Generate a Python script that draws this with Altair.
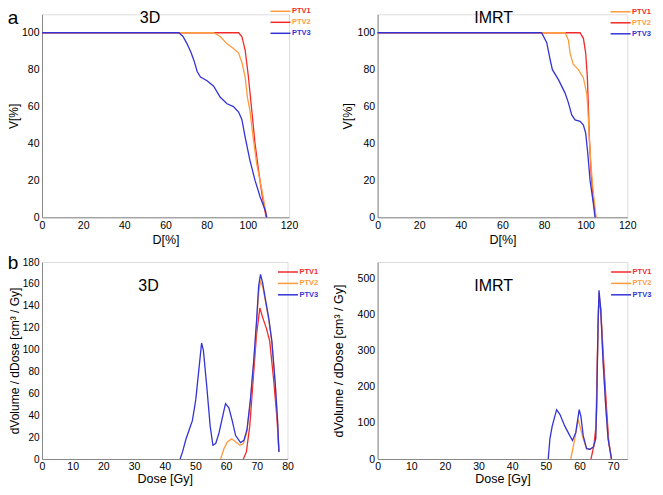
import pandas as pd
import altair as alt

# colours
RED = "#f22a2a"
ORANGE = "#ff9b3d"
BLUE = "#3434d6"

# ---- (a) cumulative DVH, 3D ----
a3d_ptv1_d = [0, 83.4, 86.6, 89.9, 93, 95.5, 97.1, 98.7, 99.8, 101, 102.7, 104.3, 106.8, 109.2]
a3d_ptv1_v = [100, 100, 98, 94, 91.5, 89, 84, 76, 65, 58, 42, 29, 15, 0]
a3d_ptv2_d = [0, 95.5, 97.1, 98.7, 100.3, 101.9, 103.5, 105.2, 106.8, 108.9]
a3d_ptv2_v = [100, 100, 98, 90.6, 76, 58, 40, 25.5, 13, 0]
a3d_ptv3_d = [0, 66.5, 68.5, 70.5, 72.5, 73.8, 75.4, 77, 80.2, 83.4, 86.6, 89.9, 93, 95.5,
              97.1, 98.7, 101, 103.5, 106, 108.4, 109.2]
a3d_ptv3_v = [100, 100, 98, 94, 89, 85, 79, 76, 74, 71, 65, 61.5, 60, 57,
              53, 43.4, 31, 20, 11, 4, 0]

# ---- (a) cumulative DVH, IMRT ----
aim_ptv1_d = [0, 90.1, 91.7, 92.5, 94, 96.5, 98.9, 100.5, 101, 101.6, 102.6, 103.7, 105]
aim_ptv1_v = [100, 100, 96, 89, 83, 80, 75.5, 67, 60, 45.6, 27.4, 13, 0]
aim_ptv2_d = [0, 97.3, 98.9, 100, 100.8, 101.3, 101.8, 102.6, 103.7, 104.8]
aim_ptv2_v = [100, 100, 97, 89, 76, 60, 42, 24, 9, 0]
aim_ptv3_d = [0, 78.8, 81.3, 82.9, 84, 86.9, 90.1, 91.7, 93.3, 94.9, 97.3, 98.9, 100, 101,
              102.1, 103.7, 104.5]
aim_ptv3_v = [100, 100, 94.6, 85.5, 80, 74.6, 67.3, 62, 55.5, 52.8, 52, 50, 45.6, 34.7,
              20, 7.4, 0]

# ---- (b) differential DVH, 3D ----
b3d_ptv1_d = [65.6, 66.6, 67.7, 68.8, 69.9, 71, 72, 73.1, 74.2, 75.5, 76.6, 77.2]
b3d_ptv1_v = [0, 6.5, 30, 72, 113.7, 138, 128.5, 119.6, 107.7, 72, 36, 6.5]
b3d_ptv2_d = [58.2, 59.3, 60.4, 61.8, 63.1, 64.5, 65.6, 66.8, 67.9, 69, 69.9, 70.6, 71.2,
              71.9, 72.8, 73.9, 74.9, 76, 76.8, 77.2]
b3d_ptv2_v = [0, 9.5, 15.5, 18.4, 15.5, 12.5, 14, 25, 52, 88, 122, 152, 162,
              158, 144, 127, 107, 69, 33, 6.5]
b3d_ptv3_d = [45, 45.8, 46.9, 48, 49, 50.1, 51.2, 52, 52.6, 53.7, 54.8, 55.7, 56.6, 57.7,
              59.1, 59.8, 60.9, 62, 63.1, 64.7, 65.8, 66.8, 67.9, 69, 69.9, 70.6, 71.2,
              71.9, 72.8, 73.9, 74.9, 76, 76.8, 77.2]
b3d_ptv3_v = [0, 6.5, 18, 27, 35, 54, 84, 106, 99, 66, 30, 12.5, 14, 24,
              42, 50.6, 46.7, 34.8, 21.4, 15, 17, 27, 54, 90, 125.6, 158, 168.7,
              161, 146, 128.5, 107.7, 69, 33, 6.5]

# ---- (b) differential DVH, IMRT ----
bim_ptv1_d = [63.4, 64.3, 64.9, 65.4, 65.7, 66.3, 67, 68, 68.7, 69.5]
bim_ptv1_v = [0, 37.7, 91.6, 325, 432, 415, 298, 145, 46.7, 0]
bim_ptv2_d = [57.4, 58.6, 59.6, 60.1, 61.1, 62.1, 63.1, 64.1, 64.8, 65.1, 65.5, 65.8,
              66.3, 67, 67.8, 68.5, 69.5]
bim_ptv2_v = [0, 55.6, 109.5, 91.6, 55.6, 28.7, 27, 33, 55.6, 145, 370, 460,
              415, 271, 145, 55.6, 0]
bim_ptv3_d = [50.7, 51.2, 51.9, 53.2, 54.2, 55.6, 56.6, 57.9, 58.9, 59.9, 60.4, 61.1,
              62.1, 63.1, 64.1, 64.8, 65.1, 65.5, 65.8, 66.3, 67, 67.8, 68.5, 69.5]
bim_ptv3_v = [0, 55.6, 91.6, 136.4, 123, 91.6, 73.6, 51, 73.6, 136.4, 118.5, 64.6,
              28.7, 27, 33, 55.6, 145.4, 370, 467, 415, 271, 145, 55.6, 0]

legend_names = ["PTV1", "PTV2", "PTV3"]
# in (a) the legend swaps the line colours of PTV1/PTV2 against their label colours
top_line_colors = [ORANGE, RED, BLUE]
bottom_line_colors = [RED, ORANGE, BLUE]
legend_text_colors = [RED, ORANGE, BLUE]

FONT = "Liberation Sans"


def panel(series, x_dom, x_ticks, y_dom, y_ticks, x_title, y_title, width, height,
          x_pads, y_label_size, y_title_size, y_title_pad, title, title_xy,
          line_colors, leg_x, leg_y0, leg_step, letter=None):
    x_axis = alt.Axis(values=x_ticks, title=x_title, grid=False, ticks=False,
                      labelFlush=False, labelOverlap=False, labelPadding=x_pads[0],
                      titlePadding=x_pads[1],
                      titleFontWeight="normal", titleFontSize=12.5, labelFontSize=10.5)
    y_axis = alt.Axis(values=y_ticks, title=y_title, grid=False, ticks=False,
                      labelOverlap=False, labelPadding=3, titlePadding=y_title_pad,
                      titleFontWeight="normal", titleFontSize=y_title_size,
                      labelFontSize=y_label_size)
    x_enc = alt.X("dose:Q", scale=alt.Scale(domain=x_dom, nice=False), axis=x_axis)
    y_enc = alt.Y("vol:Q", scale=alt.Scale(domain=y_dom, nice=False), axis=y_axis)

    # every curve carries the same x/y definition so the axis settings survive the layer merge
    layers = []
    for d, v, color in series:
        df = pd.DataFrame({"dose": d, "vol": v})
        layers.append(alt.Chart(df).mark_line(color=color, strokeWidth=1.3).encode(
            x=x_enc, y=y_enc))

    one = pd.DataFrame({"k": [0]})
    layers.append(alt.Chart(one).mark_text(fontSize=16, font=FONT, color="black").encode(
        x=alt.value(title_xy[0]), y=alt.value(title_xy[1]), text=alt.value(title)))
    if letter is not None:
        layers.append(alt.Chart(one).mark_text(fontSize=19, font=FONT, color="black").encode(
            x=alt.value(letter[1]), y=alt.value(letter[2]), text=alt.value(letter[0])))

    for i, name in enumerate(legend_names):
        ly = leg_y0 + i * leg_step
        layers.append(alt.Chart(one).mark_rule(strokeWidth=1.5).encode(
            x=alt.value(leg_x), x2=alt.value(leg_x + 20), y=alt.value(ly),
            color=alt.value(line_colors[i])))
        layers.append(alt.Chart(one).mark_text(fontSize=7.5, fontWeight="bold", font=FONT,
                                               align="left", baseline="middle").encode(
            x=alt.value(leg_x + 21.5), y=alt.value(ly), text=alt.value(name),
            color=alt.value(legend_text_colors[i])))

    return alt.layer(*layers).properties(width=width, height=height)


tl = panel([(a3d_ptv2_d, a3d_ptv2_v, RED), (a3d_ptv1_d, a3d_ptv1_v, ORANGE),
            (a3d_ptv3_d, a3d_ptv3_v, BLUE)],
           [0, 120], list(range(0, 121, 20)), [0, 110], list(range(0, 101, 20)),
           "D[%]", "V[%]", 247, 203, (3, 3), 10.5, 12, 1, "3D", (108, 4),
           top_line_colors, 228.5, -3, 11, letter=("a", -29, 4))

tr = panel([(aim_ptv2_d, aim_ptv2_v, RED), (aim_ptv1_d, aim_ptv1_v, ORANGE),
            (aim_ptv3_d, aim_ptv3_v, BLUE)],
           [0, 120], list(range(0, 121, 20)), [0, 110], list(range(0, 101, 20)),
           "D[%]", "V[%]", 249.7, 203, (3, 3), 10.5, 12.5, 3, "IMRT", (116, 4),
           top_line_colors, 233, -2.5, 11)

bl = panel([(b3d_ptv1_d, b3d_ptv1_v, RED), (b3d_ptv2_d, b3d_ptv2_v, ORANGE),
            (b3d_ptv3_d, b3d_ptv3_v, BLUE)],
           [0, 80], list(range(0, 81, 10)), [0, 180], list(range(0, 181, 20)),
           "Dose [Gy]", "dVolume / dDose [cm³ / Gy]", 245.5, 197, (2, 1), 10, 12, 1,
           "3D", (106.5, 24), bottom_line_colors, 236, 10, 11.4, letter=("b", -29, 1))

br = panel([(bim_ptv1_d, bim_ptv1_v, RED), (bim_ptv2_d, bim_ptv2_v, ORANGE),
            (bim_ptv3_d, bim_ptv3_v, BLUE)],
           [0, 74.2], list(range(0, 71, 10)), [0, 545], list(range(0, 501, 100)),
           "Dose [Gy]", "dVolume / dDose [cm³ / Gy]", 249.7, 197, (2, 1), 10.5, 12.5, 12,
           "IMRT", (116, 24), bottom_line_colors, 233.5, 10, 11.4)

# autosize "none" on a concat leaves the view size at 0, so the padding alone sets the
# drawing size (647 x 479, i.e. the window minus the page margin) and fixes where the
# top-left plot starts
chart = alt.concat(tl, tr, bl, br, columns=2, bounds="flush",
                   spacing={"row": 44.7, "column": 88.6}).properties(
    autosize=alt.AutoSizeParams(type="none"),
    padding={"left": 34, "top": 6.3, "right": 613, "bottom": 472.7},
).configure_view(
    strokeWidth=0
).configure_axis(
    domainColor="black", domainWidth=1, labelColor="#222", titleColor="#111",
    labelFont=FONT, titleFont=FONT
).configure(background="white")

chart.save("out.html", embed_options={"renderer": "svg", "actions": False})
